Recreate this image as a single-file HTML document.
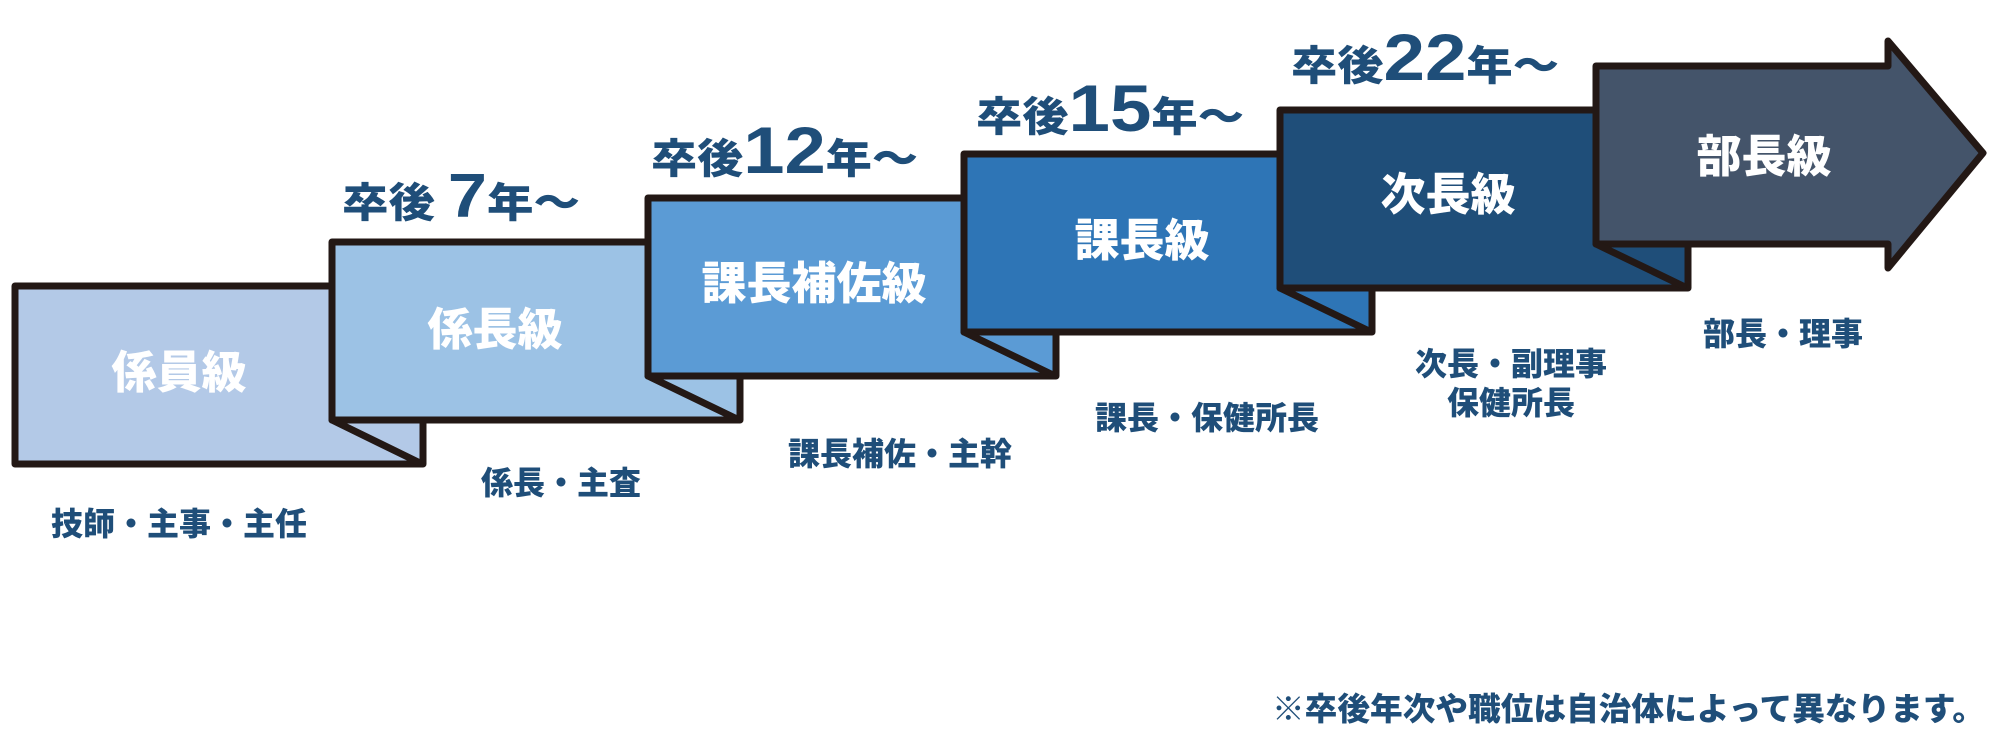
<!DOCTYPE html>
<html><head><meta charset="utf-8"><style>
html,body{margin:0;padding:0;background:#fff;}
svg{display:block;}
text{font-family:"Liberation Sans","Noto Sans CJK JP",sans-serif;font-weight:900;}
</style></head><body>
<svg width="2000" height="742" viewBox="0 0 2000 742" xmlns="http://www.w3.org/2000/svg">
<g stroke="#231815" stroke-width="7" stroke-linejoin="round" stroke-linecap="round">
<rect x="15" y="286" width="408" height="178" fill="#b3c9e7"/>
<rect x="332" y="242" width="408" height="178" fill="#9cc2e5"/>
<line x1="332" y1="420" x2="418" y2="462"/>
<rect x="648" y="198" width="408" height="178" fill="#5b9bd5"/>
<line x1="648" y1="376" x2="735" y2="418"/>
<rect x="964" y="154" width="408" height="178" fill="#2e75b6"/>
<line x1="964" y1="332" x2="1051" y2="374"/>
<rect x="1280" y="110" width="408" height="178" fill="#1f4e79"/>
<line x1="1280" y1="288" x2="1367" y2="330"/>
<polygon points="1596,66 1888,66 1888,41 1983,153 1888,268 1888,244 1596,244" fill="#44546a"/>
<line x1="1596" y1="244" x2="1683" y2="286"/>
</g>
<g fill="#fff" font-size="45" text-anchor="middle">
<text x="179" y="388">係員級</text>
<text x="495" y="345">係長級</text>
<text x="814" y="299">課長補佐級</text>
<text x="1142" y="256">課長級</text>
<text x="1448" y="210">次長級</text>
<text x="1764" y="172">部長級</text>
</g>
<g fill="#1f4e79">
<text x="342" y="217" font-size="41" textLength="238" lengthAdjust="spacingAndGlyphs">卒後 <tspan font-size="62">7</tspan>年〜</text>
<text x="651" y="173" font-size="41" textLength="267" lengthAdjust="spacingAndGlyphs">卒後<tspan font-size="66">12</tspan>年〜</text>
<text x="976" y="131" font-size="41" textLength="268" lengthAdjust="spacingAndGlyphs">卒後<tspan font-size="66">15</tspan>年〜</text>
<text x="1291" y="80" font-size="41" textLength="268" lengthAdjust="spacingAndGlyphs">卒後<tspan font-size="66">22</tspan>年〜</text>
<g font-size="32" text-anchor="middle">
<text x="179" y="535">技師・主事・主任</text>
<text x="561" y="494">係長・主査</text>
<text x="900" y="465">課長補佐・主幹</text>
<text x="1207" y="429">課長・保健所長</text>
<text x="1511" y="375">次長・副理事</text>
<text x="1511" y="414">保健所長</text>
<text x="1783" y="345">部長・理事</text>
</g>
<text x="1272" y="720" font-size="32" textLength="713" lengthAdjust="spacingAndGlyphs">※卒後年次や職位は自治体によって異なります。</text>
</g>
</svg>
</body></html>
